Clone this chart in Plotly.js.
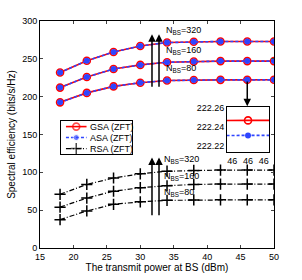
<!DOCTYPE html>
<html>
<head>
<meta charset="utf-8">
<script src="https://cdn.plot.ly/plotly-3.0.1.min.js"></script>
<style>html,body{margin:0;padding:0;background:#fff;}#chart{width:302px;height:280px;}</style>
</head>
<body>
<div id="chart"></div>
<script>
// ---- data ----
const power = [18, 22, 26, 30, 34, 38, 42, 46, 50];
const gsa320 = [232, 247.5, 259, 267, 271.5, 272.5, 273, 273, 273];
const gsa160 = [212, 226, 236.5, 242, 245.5, 246.5, 247, 247, 247];
const gsa80  = [192.5, 205, 213.6, 218.4, 221.3, 222.0, 222.2, 222.247, 222.26];
const asa320 = [232, 247.5, 259, 267, 271.5, 272.5, 273, 273, 273];
const asa160 = [212, 226, 236.5, 242, 245.5, 246.5, 247, 247, 247];
const asa80  = [192.5, 205, 213.6, 218.4, 221.3, 222.0, 222.2, 222.231, 222.24];
const rsa320 = [71, 84, 92.5, 98, 101.5, 102.5, 103, 103, 103];
const rsa160 = [54, 66, 75, 79.7, 82.3, 84, 84.5, 84.5, 84.5];
const rsa80  = [37.5, 49, 57.7, 61, 63, 63.5, 63.7, 63.7, 63.7];
const nbsLabels = ["N<sub>BS</sub>=320", "N<sub>BS</sub>=160", "N<sub>BS</sub>=80"];
const legendNames = ["GSA (ZFT)", "ASA (ZFT)", "RSA (ZFT)"];
const xTicks = [15, 20, 25, 30, 35, 40, 45, 50];
const yTicks = [0, 50, 100, 150, 200, 250, 300];
const insetYTicks = [222.22, 222.24, 222.26];
const insetXTickVals = [45.9925, 46, 46.0075];
const insetXTickText = ["46", "46", "46"];
// legend key sample positions (in the legend box's own 0..1 / 0..3 scale)
const keyX = [0.07, 0.215, 0.36];
const keyRows = [2.5, 1.5, 0.5];

const RED = "#ff0000", BLUE = "#2f45ff", BLACK = "#000000";
const styles = {
  g: {line: {color: RED, width: 1.6},
      marker: {symbol: "circle-open", size: 7, color: RED, line: {width: 1.6, color: RED}}},
  a: {line: {color: BLUE, width: 1.6, dash: "3px,2px"},
      marker: {symbol: "circle", size: 6, color: BLUE}},
  r: {line: {color: BLACK, width: 1.2, dash: "5px,2px,1px,2px"},
      marker: {symbol: "cross-thin-open", size: 8, color: BLACK, line: {width: 1.5, color: BLACK}}}
};
function series(key, name, y, xa, ya) {
  return {x: power, y: y, type: "scatter", mode: "lines+markers", name: name, showlegend: false,
    xaxis: xa || "x", yaxis: ya || "y", line: styles[key].line, marker: styles[key].marker};
}
const traces = [];
[[gsa320, asa320, rsa320], [gsa160, asa160, rsa160], [gsa80, asa80, rsa80]].forEach(function (grp) {
  traces.push(series("g", legendNames[0], grp[0]), series("a", legendNames[1], grp[1]), series("r", legendNames[2], grp[2]));
});
// inset
traces.push(series("g", legendNames[0], gsa80, "x2", "y2"), series("a", legendNames[1], asa80, "x2", "y2"));
// legend key
["g", "a", "r"].forEach(function (k, i) {
  const m = Object.assign({}, styles[k].marker, {size: [0, styles[k].marker.size, 0]});
  traces.push({x: keyX, y: [keyRows[i], keyRows[i], keyRows[i]], type: "scatter", mode: "lines+markers",
    showlegend: false, hoverinfo: "skip", xaxis: "x3", yaxis: "y3", line: styles[k].line, marker: m});
});

const fnt = {family: "Liberation Sans, Arial, sans-serif", size: 9, color: "#000"};
const ann = [];
function arrow(x, yHead, yTail) {
  ann.push({x: x, y: yHead, ax: x, ay: yTail, xref: "x", yref: "y", axref: "x", ayref: "y",
    text: "", showarrow: true, arrowhead: 2, arrowsize: 1, arrowwidth: 1.5, arrowcolor: "#000"});
}
arrow(31.75, 282.5, 211); arrow(32.8, 282.5, 211);
arrow(31.75, 119.5, 41.3); arrow(32.8, 119.5, 41.3);
arrow(46, 187.5, 222);
const topLabY = [287, 261, 237], botLabY = [117, 95, 74];
for (let i = 0; i < 3; i++) {
  ann.push({x: 33.6, y: topLabY[i], xref: "x", yref: "y", text: nbsLabels[i], showarrow: false,
    xanchor: "left", yanchor: "middle", font: fnt});
  ann.push({x: 33.3, y: botLabY[i], xref: "x", yref: "y", text: nbsLabels[i], showarrow: false,
    xanchor: "left", yanchor: "middle", font: fnt});
  ann.push({x: 0.385, y: keyRows[i], xref: "x3", yref: "y3", text: legendNames[i], showarrow: false,
    xanchor: "left", yanchor: "middle", font: fnt});
}

const layout = {
  width: 302, height: 280,
  margin: {l: 40, r: 28, t: 21, b: 32},
  paper_bgcolor: "#fff", plot_bgcolor: "#fff",
  font: fnt,
  showlegend: false,
  xaxis: {range: [15, 50], tickvals: xTicks, ticks: "inside", ticklen: 3, showline: true,
    mirror: "ticks", linecolor: "#000", linewidth: 1, showgrid: false, zeroline: false,
    tickfont: fnt, title: {text: "The transmit power at BS (dBm)", font: {family: fnt.family, size: 10}, standoff: 2}},
  yaxis: {range: [0, 300], tickvals: yTicks, ticks: "inside", ticklen: 3, showline: true,
    mirror: "ticks", linecolor: "#000", linewidth: 1, showgrid: false, zeroline: false,
    tickfont: fnt, title: {text: "Spectral efficiency (bits/s/Hz)", font: {family: fnt.family, size: 10}, standoff: 4}},
  xaxis2: {domain: [0.799, 0.979], anchor: "y2", range: [45.99, 46.01], tickvals: insetXTickVals,
    ticktext: insetXTickText, ticks: "", showline: true, mirror: true, linecolor: "#000",
    linewidth: 1, showgrid: false, zeroline: false, tickfont: fnt},
  yaxis2: {domain: [0.423, 0.62], anchor: "x2", range: [222.2133, 222.261], tickvals: insetYTicks,
    ticks: "", showline: true, mirror: true, linecolor: "#000", linewidth: 1, showgrid: false,
    zeroline: false, tickfont: fnt, tickformat: ".2f"},
  xaxis3: {domain: [0.0897, 0.393], anchor: "y3", range: [0, 1], showticklabels: false, ticks: "",
    showline: true, mirror: true, linecolor: "#000", linewidth: 1, showgrid: false, zeroline: false},
  yaxis3: {domain: [0.414, 0.559], anchor: "x3", range: [0, 3], showticklabels: false, ticks: "",
    showline: true, mirror: true, linecolor: "#000", linewidth: 1, showgrid: false, zeroline: false},
  annotations: ann
};
Plotly.newPlot("chart", traces, layout, {displayModeBar: false, staticPlot: true});
</script>
</body>
</html>
